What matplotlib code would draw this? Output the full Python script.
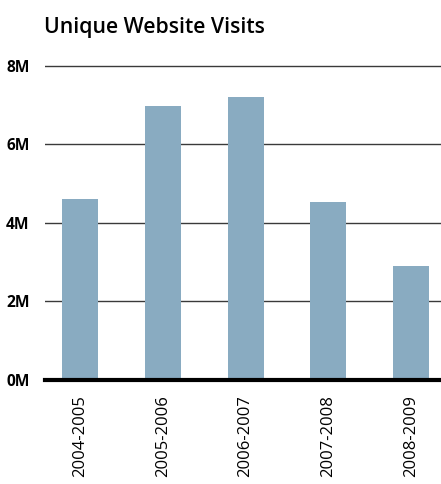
import matplotlib
matplotlib.use("Agg")
import matplotlib.pyplot as plt

seasons = ["2004-2005", "2005-2006", "2006-2007", "2007-2008", "2008-2009"]
visits_m = [4.61, 6.98, 7.21, 4.53, 2.90]
y_ticks = [0, 2, 4, 6, 8]
y_labels = ["0M", "2M", "4M", "6M", "8M"]

plt.rcParams['font.family'] = ['Open Sans', 'DejaVu Sans']

fig = plt.figure(figsize=(4.41, 4.84), dpi=100)
ax = fig.add_axes([45 / 441, 1 - 380 / 484, 1 - 45 / 441, (380 - 62) / 484])

ax.bar(range(len(seasons)), visits_m, width=0.435, color="#89abc1", zorder=2)

ax.set_xlim(-0.423, 4.36)
ax.set_ylim(0, 8.1)
ax.set_yticks(y_ticks)
ax.set_yticklabels(y_labels, fontsize=11.2, fontweight="bold")
ax.set_xticks(range(len(seasons)))
ax.set_xticklabels(seasons, rotation=90, fontsize=12)

# horizontal rules, heavier baseline
for t in y_ticks[1:]:
    ax.axhline(t, color="#3a3a3a", linewidth=1.0, zorder=1)
ax.axhline(0, color="black", linewidth=3.0, zorder=3, clip_on=False)

for side in ax.spines.values():
    side.set_visible(False)
ax.tick_params(axis="both", length=0)
ax.tick_params(axis="y", pad=11)
ax.tick_params(axis="x", pad=11)

fig.text(44 / 441, 1 - 33 / 484, "Unique Website Visits", fontsize=15.3,
         fontweight="semibold", ha="left", va="baseline")

fig.savefig("out.png", dpi=100)
